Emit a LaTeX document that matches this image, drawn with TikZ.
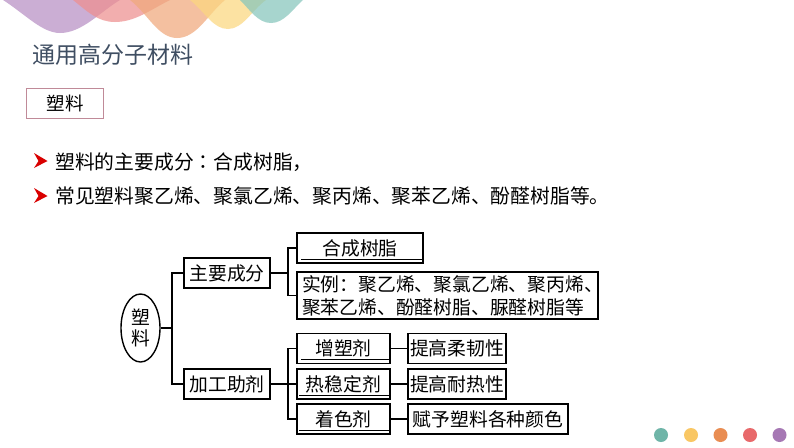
\documentclass[tikz,border=0pt]{standalone}
\usepackage{fontspec}
\usetikzlibrary{shapes.geometric}
\setmainfont{Noto Sans CJK SC}
\newfontfamily\tcfont{Noto Sans CJK TC}
\definecolor{wpurple}{HTML}{B78FC4}
\definecolor{wpink}{HTML}{EE8F8F}
\definecolor{worange}{HTML}{F0A97C}
\definecolor{wyellow}{HTML}{FBD77F}
\definecolor{wteal}{HTML}{86C6BC}
\definecolor{titlecol}{HTML}{3F4E62}
\definecolor{framecol}{HTML}{C08A98}
\tikzset{
  wave/.style={fill opacity=.72,draw=none},
  dot/.style={circle,minimum size=14pt,inner sep=0pt,draw=none},
  box/.style={draw=black,line width=1.4pt,fill=white,inner sep=0pt,font=\fontsize{18.8pt}{23pt}\selectfont,align=center},
  link/.style={draw=black,line width=1.4pt},
  uline/.style={draw=black,line width=1pt},
  bullettext/.style={anchor=west,inner sep=0pt,font=\fontsize{19.8pt}{24pt}\selectfont,text=black},
  arrowbullet/.style={fill=red!85!black,draw=none},
}
\begin{document}
\begin{tikzpicture}[x=1pt,y=-1pt]
\useasboundingbox (0,0) rectangle (794,447);
\fill[white] (0,0) rectangle (794,447);
% waves
\fill[wave,wpurple] (3,0) .. controls (25,14) and (42,33) .. (60,33) .. controls (82,33) and (100,12) .. (120,0) -- cycle;
\fill[wave,wpink] (73,0) .. controls (88,12) and (98,22) .. (115,22) .. controls (135,22) and (150,10) .. (170,0) -- cycle;
\fill[wave,worange] (130,0) .. controls (148,14) and (158,38) .. (177,38) .. controls (197,38) and (208,14) .. (225,0) -- cycle;
\fill[wave,wyellow] (190,0) .. controls (205,12) and (213,29) .. (228,29) .. controls (243,29) and (252,10) .. (266,0) -- cycle;
\fill[wave,wteal] (240,0) .. controls (250,10) and (258,23) .. (271,23) .. controls (284,23) and (292,10) .. (303,0) -- cycle;
% heading
\node[anchor=west,inner sep=0pt,text=titlecol,font=\fontsize{23pt}{28pt}\selectfont] (title) at (32,55) {通用高分子材料};
\node[draw=framecol,line width=.8pt,fill=white,minimum width=77pt,minimum height=30pt,inner sep=0pt,font=\fontsize{18.5pt}{22pt}\selectfont] (tag) at (65,103) {塑料};
% bullets
\fill[arrowbullet] (34,153) -- (47.5,161) -- (34,168) -- (38.5,161) -- cycle;
\fill[arrowbullet] (34,188) -- (47.5,196) -- (34,203) -- (38.5,196) -- cycle;
\node[bullettext] (b1) at (55,162) {塑料的主要成分{\tcfont ：}合成树脂，};
\node[bullettext] (b2) at (55,196) {常见塑料聚乙烯、聚氯乙烯、聚丙烯、聚苯乙烯、酚醛树脂等。};
% tree nodes
\node[box,ellipse,minimum width=39pt,minimum height=68pt,font=\fontsize{18.8pt}{21pt}\selectfont] (root) at (140.5,328) {塑\\料};
\node[box,minimum width=86pt,minimum height=30pt] (main) at (227,273) {主要成分};
\node[box,minimum width=86pt,minimum height=30pt] (aid) at (227,384) {加工助剂};
\node[box,minimum width=126pt,minimum height=30pt] (resin) at (360,248) {合成树脂};
\node[box,minimum width=301pt,minimum height=47pt,align=left,text width=301pt] (ex) at (447.5,295.5) {\hspace*{5pt}实例：聚乙烯、聚氯乙烯、聚丙烯、\\\hspace*{5pt}聚苯乙烯、酚醛树脂、脲醛树脂等};
\node[box,minimum width=93pt,minimum height=29.5pt] (plast) at (343.5,348.5) {增塑剂};
\node[box,minimum width=93pt,minimum height=30pt] (heat) at (343.5,384) {热稳定剂};
\node[box,minimum width=93pt,minimum height=30pt] (color) at (343.5,419) {着色剂};
\node[box,minimum width=98pt,minimum height=29.5pt] (soft) at (457,348.5) {提高柔韧性};
\node[box,minimum width=98pt,minimum height=30pt] (hres) at (457,384) {提高耐热性};
\node[box,minimum width=160pt,minimum height=30pt] (dye) at (488,419) {赋予塑料各种颜色};
% junctions
\coordinate (j0) at (172,328);
\coordinate (j1) at (288,273);
\coordinate (j2) at (288,384);
% connectors
\draw[link] (root.east) -- (j0);
\draw[link] (j0) |- (main.west);
\draw[link] (j0) |- (aid.west);
\draw[link] (main.east) -- (j1);
\draw[link] (j1) |- (resin.west);
\draw[link] (j1) |- (ex.west);
\draw[link] (aid.east) -- (heat.west);
\draw[link] (j2) |- (plast.west);
\draw[link] (j2) |- (color.west);
\draw[link] (plast.east) -- (soft.west);
\draw[link] (heat.east) -- (hres.west);
\draw[link] (color.east) -- (dye.west);
% underlines inside the boxes
\draw[uline] ([shift={(5,-4)}]resin.south west) -- ([shift={(-1,-4)}]resin.south east);
\draw[uline] ([shift={(5,-4)}]plast.south west) -- ([shift={(-1,-4)}]plast.south east);
\draw[uline] ([shift={(3,-4)}]heat.south west) -- ([shift={(-1,-4)}]heat.south east);
\draw[uline] ([shift={(3,-4)}]color.south west) -- ([shift={(-1,-4)}]color.south east);
% dots
\node[dot,fill={rgb,255:red,111;green,181;blue,168}] (d1) at (661,435) {};
\node[dot,fill={rgb,255:red,249;green,199;blue,100}] (d2) at (691,435) {};
\node[dot,fill={rgb,255:red,233;green,141;blue,82}] (d3) at (720.5,435) {};
\node[dot,fill={rgb,255:red,232;green,105;blue,107}] (d4) at (750,435) {};
\node[dot,fill={rgb,255:red,166;green,120;blue,180}] (d5) at (779.5,435) {};
\end{tikzpicture}
\end{document}
